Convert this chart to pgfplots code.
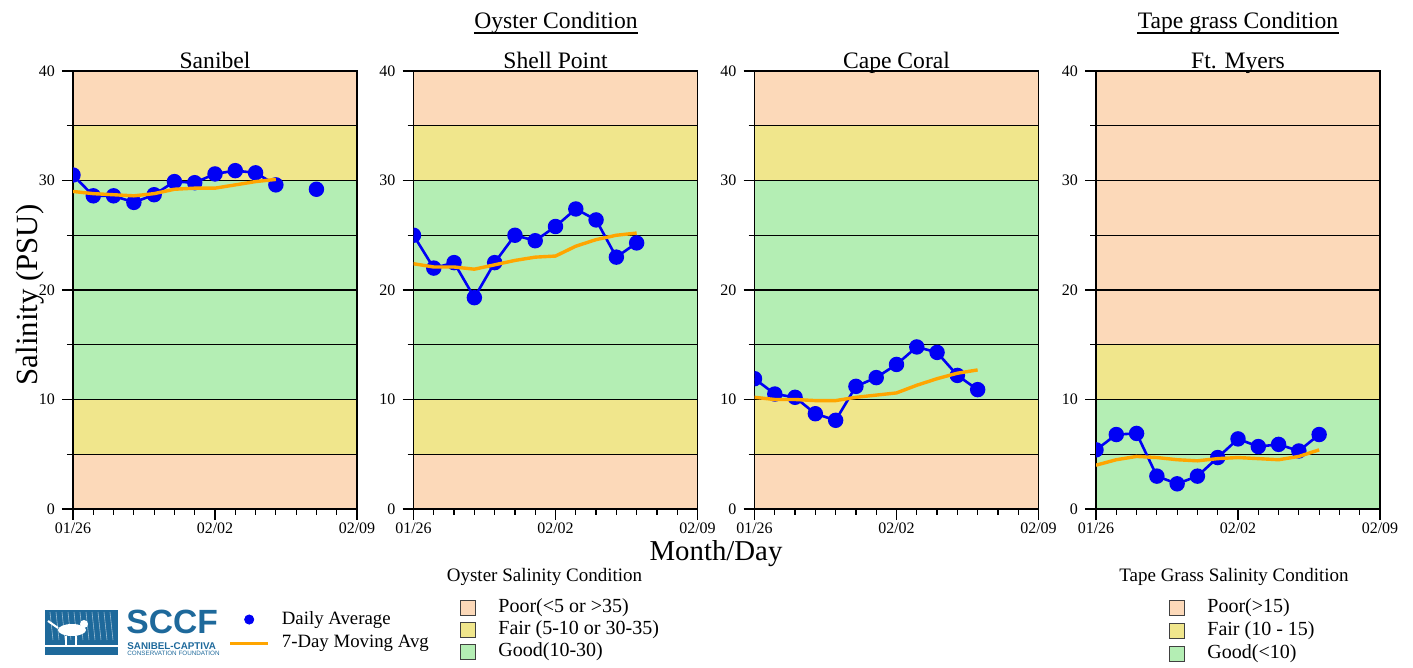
\documentclass[border=0pt]{standalone}
\usepackage{fontspec}
\setmainfont{Liberation Serif}
\newfontfamily\logofont{Liberation Sans}
\usepackage{pgfplots}
\pgfplotsset{compat=1.18}
\definecolor{poor}{RGB}{252,217,185}
\definecolor{fair}{RGB}{240,230,140}
\definecolor{good}{RGB}{180,238,180}
\definecolor{logoblue}{RGB}{30,105,155}
\definecolor{dayblue}{RGB}{0,0,245}
\definecolor{maorange}{RGB}{255,165,0}

\pgfplotsset{
  panel/.style={
    set layers, scale only axis, width=142pt, height=219pt, anchor=south west,
    xmin=0, xmax=14, ymin=0, ymax=40,
    xtick={0,7,14}, xticklabels={01/26,02/02,02/09}, minor xtick={1,2,...,13},
    ytick={0,10,20,30,40}, minor ytick={5,15,25,35},
    ymajorgrids, yminorgrids,
    major grid style={black, line width=0.7pt},
    minor grid style={black, line width=0.7pt},
    tick align=outside, xtick pos=bottom, ytick pos=left,
    major tick length=5.5pt, minor tick length=3pt,
    tick style={black, line width=0.6pt},
    axis line style={black, line width=0.8pt},
    tick label style={font=\fontsize{8}{9}\selectfont},
    xticklabel style={inner sep=1pt},
    /pgf/number format/assume math mode=true,
    title style={font=\fontsize{11.8}{14}\selectfont, at={(0.5,1)}, anchor=base, yshift=-4.5pt},
    unbounded coords=jump,
    clip marker paths=true,
  },
  daily/.style={dayblue, line width=1.3pt, mark=*, mark size=3.2pt, mark options={solid, fill=dayblue, draw=dayblue}},
  mavg/.style={maorange, line width=1.7pt, no marks},
}

\newcommand{\oysterbands}{%
  \begin{pgfonlayer}{axis background}
    \fill[poor] (axis cs:0,0) rectangle (axis cs:14,5);
    \fill[fair] (axis cs:0,5) rectangle (axis cs:14,10);
    \fill[good] (axis cs:0,10) rectangle (axis cs:14,30);
    \fill[fair] (axis cs:0,30) rectangle (axis cs:14,35);
    \fill[poor] (axis cs:0,35) rectangle (axis cs:14,40);
  \end{pgfonlayer}}
\newcommand{\grassbands}{%
  \begin{pgfonlayer}{axis background}
    \fill[good] (axis cs:0,0) rectangle (axis cs:14,10);
    \fill[fair] (axis cs:0,10) rectangle (axis cs:14,15);
    \fill[poor] (axis cs:0,15) rectangle (axis cs:14,40);
  \end{pgfonlayer}}

\begin{document}
\begin{tikzpicture}

% ---------- Sanibel ----------
\begin{axis}[panel, at={(36.5pt,79.5pt)}, title={Sanibel},
  legend style={draw=none, fill=none, at={(0.525,-0.224)}, anchor=north west,
    font=\fontsize{9.4}{11}\selectfont, row sep=4pt, column sep=6pt,
    nodes={inner sep=0pt}},
  legend cell align=left]
\oysterbands
\addplot[daily, forget plot] coordinates {(0,30.5)(1,28.6)(2,28.6)(3,28.0)(4,28.7)(5,29.9)(6,29.8)(7,30.6)(8,30.9)(9,30.7)(10,29.6)(11,nan)(12,29.2)};
\addplot[mavg, forget plot] coordinates {(0,29.0)(1,28.8)(2,28.7)(3,28.6)(4,28.8)(5,29.2)(6,29.3)(7,29.3)(8,29.6)(9,29.9)(10,30.1)};
\addlegendimage{dayblue, legend image code/.code={\fill[dayblue] (9.5pt,0pt) circle (2.3pt);}}
\addlegendentry{Daily Average}
\addlegendimage{maorange, legend image code/.code={\draw[maorange, line width=1.7pt] (0pt,0pt) -- (19pt,0pt);}}
\addlegendentry{7-Day Moving Avg}
\end{axis}

% ---------- Shell Point ----------
\begin{axis}[panel, at={(206.75pt,79.5pt)}, title={Shell Point}]
\oysterbands
\addplot[daily] coordinates {(0,25.0)(1,22.0)(2,22.5)(3,19.3)(4,22.5)(5,25.0)(6,24.5)(7,25.8)(8,27.4)(9,26.4)(10,23.0)(11,24.3)};
\addplot[mavg] coordinates {(0,22.4)(1,22.1)(2,22.1)(3,21.9)(4,22.3)(5,22.7)(6,23.0)(7,23.1)(8,24.0)(9,24.6)(10,25.0)(11,25.2)};
\end{axis}

% ---------- Cape Coral ----------
\begin{axis}[panel, at={(377.25pt,79.5pt)}, title={Cape Coral}]
\oysterbands
\addplot[daily] coordinates {(0,11.9)(1,10.5)(2,10.2)(3,8.7)(4,8.1)(5,11.2)(6,12.0)(7,13.2)(8,14.8)(9,14.3)(10,12.2)(11,10.9)};
\addplot[mavg] coordinates {(0,10.2)(1,10.0)(2,10.0)(3,9.9)(4,9.9)(5,10.2)(6,10.4)(7,10.6)(8,11.3)(9,11.9)(10,12.4)(11,12.7)};
\end{axis}

% ---------- Ft. Myers ----------
\begin{axis}[panel, at={(548pt,79.5pt)}, title={Ft. Myers}]
\grassbands
\addplot[daily] coordinates {(0,5.4)(1,6.8)(2,6.9)(3,3.0)(4,2.3)(5,3.0)(6,4.7)(7,6.4)(8,5.7)(9,5.9)(10,5.3)(11,6.8)};
\addplot[mavg] coordinates {(0,4.0)(1,4.5)(2,4.8)(3,4.7)(4,4.5)(5,4.4)(6,4.6)(7,4.7)(8,4.6)(9,4.5)(10,4.8)(11,5.4)};
\end{axis}

% ---------- annotations (image pixel coordinates) ----------
\begin{scope}[x=0.5pt, y=-0.5pt, shift={(0pt,334pt)}]
  \node[anchor=base, font=\fontsize{11.8}{14}\selectfont, inner sep=0pt] (oc) at (556,29) {Oyster Condition};
  \draw[black, line width=0.6pt] ([yshift=-2pt]oc.base west) -- ([yshift=-2pt]oc.base east);
  \node[anchor=base, font=\fontsize{11.8}{14}\selectfont, inner sep=0pt] (tc) at (1238,29) {Tape grass Condition};
  \draw[black, line width=0.6pt] ([yshift=-2pt]tc.base west) -- ([yshift=-2pt]tc.base east);
  \node[anchor=base, font=\fontsize{14.4}{17}\selectfont, inner sep=0pt] at (716,561) {Month/Day};
  \node[anchor=base, rotate=90, font=\fontsize{15.4}{18}\selectfont, inner sep=0pt] at (37,295) {Salinity (PSU)};

  % oyster legend
  \node[anchor=base, font=\fontsize{9.5}{11}\selectfont, inner sep=0pt] at (544.5,582) {Oyster Salinity Condition};
  \foreach \c/\yy/\t in {poor/608/{Poor(<5 or >35)}, fair/630/{Fair (5-10 or 30-35)}, good/652/{Good(10-30)}} {
    \filldraw[fill=\c, draw=black!75, line width=0.5pt] (460,\yy-7.5) rectangle (475,\yy+7.5);
    \node[anchor=west, font=\fontsize{10}{12}\selectfont, inner sep=0pt] at (498,\yy) {\t};
  }
  % tape grass legend
  \node[anchor=base, font=\fontsize{9.5}{11}\selectfont, inner sep=0pt] at (1234,582) {Tape Grass Salinity Condition};
  \foreach \c/\yy/\t in {poor/608/{Poor(>15)}, fair/631/{Fair (10 - 15)}, good/654/{Good(<10)}} {
    \filldraw[fill=\c, draw=black!75, line width=0.5pt] (1169,\yy-7.5) rectangle (1184,\yy+7.5);
    \node[anchor=west, font=\fontsize{10}{12}\selectfont, inner sep=0pt] at (1207,\yy) {\t};
  }

  % SCCF logo
  \fill[logoblue] (45,610) rectangle (118,655);
  \foreach \xx in {50,56,...,114} \draw[white!55!logoblue, line width=0.3pt] (\xx,612) -- (\xx+3,640);
  \fill[white] (72,630) ellipse (14 and 6);
  \fill[white] (84,624) circle (4);
  \draw[white, line width=1pt] (58,628) -- (48,621);
  \draw[white, line width=0.8pt] (66,636) -- (66,645) (76,636) -- (76,645);
  \draw[white, line width=0.8pt] (45,646) -- (118,646);
  \node[anchor=base west, inner sep=0pt, text=logoblue, font=\logofont\bfseries\fontsize{16.8}{17}\selectfont] at (126,634) {SCCF};
  \node[anchor=base west, inner sep=0pt, text=logoblue, font=\logofont\bfseries\fontsize{4.9}{5}\selectfont] at (127,649.5) {SANIBEL-CAPTIVA};
  \node[anchor=base west, inner sep=0pt, text=logoblue, font=\logofont\fontsize{3.15}{3.5}\selectfont] at (127,656) {CONSERVATION FOUNDATION};
\end{scope}
\pgfresetboundingbox
\path (0pt,0pt) rectangle (706.5pt,334pt);
\end{tikzpicture}
\end{document}
